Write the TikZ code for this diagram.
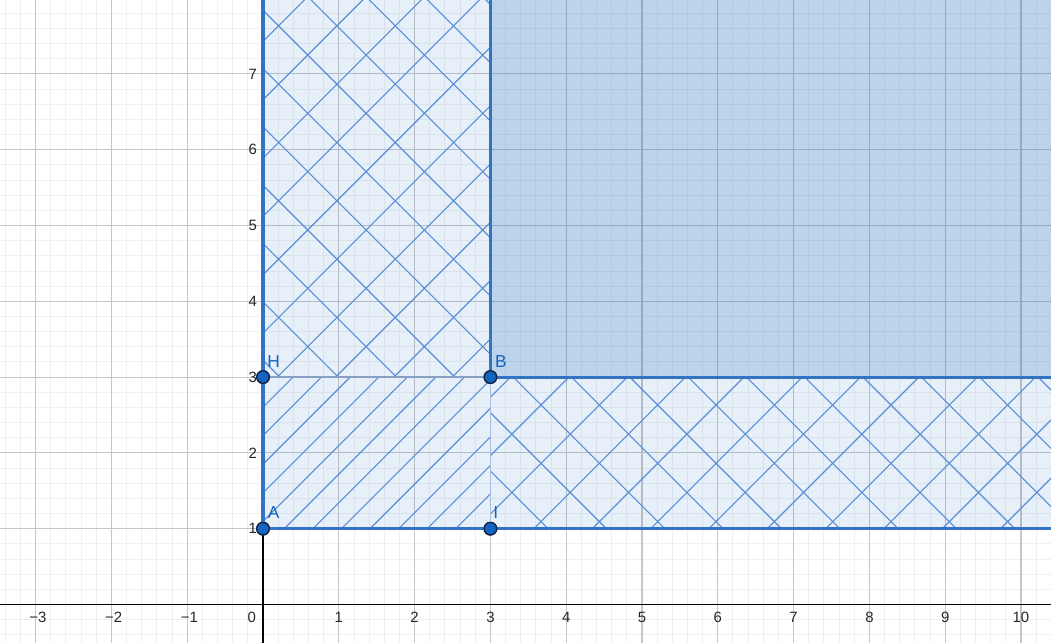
\documentclass[tikz,border=0pt]{standalone}
\usepackage{fontspec}
\setmainfont{Liberation Sans}
\definecolor{ggblue}{RGB}{21,101,192}
\definecolor{edgeblue}{RGB}{50,115,196}
\definecolor{hatchblue}{RGB}{90,142,214}
\definecolor{minorgrid}{RGB}{240,240,240}
\definecolor{majorgrid}{RGB}{198,198,198}
\definecolor{ptborder}{RGB}{20,35,70}
\definecolor{innerh}{RGB}{135,160,196}
\definecolor{innerv}{RGB}{165,190,225}
\tikzset{
  pt/.style={circle,fill=ggblue,draw=ptborder,line width=0.5pt,minimum size=1.65mm,inner sep=0pt},
  ptlabel/.style={text=ggblue,font=\fontsize{6.5}{7}\selectfont,inner sep=0pt},
  ticklabel/.style={text=black!85,font=\fontsize{5.6}{6}\selectfont,inner sep=0pt},
  hatchline/.style={hatchblue,line width=0.42pt},
  edge/.style={edgeblue,line width=1.15pt},
}
\begin{document}
\begin{tikzpicture}
\useasboundingbox (-3.470,-0.508) rectangle (10.396,7.975);
\fill[white] (-3.470,-0.508) rectangle (10.396,7.975);
\begin{scope}
\clip (-3.470,-0.508) rectangle (10.396,7.975);
% grid
\draw[minorgrid,line width=0.35pt] (-3.6,-0.6) grid[step=0.2] (10.6,8.2);
\draw[majorgrid,line width=0.4pt] (-4,-1) grid[step=1] (11,9);
% axes
\draw[black,line width=0.5pt] (-3.6,0) -- (10.6,0);
\draw[black,line width=0.5pt] (0,-0.6) -- (0,8.2);
% fills
\fill[ggblue,opacity=0.1] (0,1) rectangle (10.6,8.2);
\fill[ggblue,opacity=0.2] (3,3) rectangle (10.6,8.2);
% single hatch in lower-left square
\begin{scope}
\clip (0,1) rectangle (3,3);
\foreach \k in {-9,...,10}{
  \pgfmathsetmacro{\c}{-0.719+\k*0.377}
  \draw[hatchline] (\c-1,-1) -- (\c+9,9);
}
\end{scope}
% cross hatch in L-shaped region
\begin{scope}
\clip (0,3) rectangle (3,8.2) (3,1) rectangle (10.6,3);
\foreach \k in {-14,...,13}{
  \pgfmathsetmacro{\c}{1.036+\k*0.7695}
  \draw[hatchline] (\c-1,-1) -- (\c+9,9);
}
\foreach \k in {-9,...,18}{
  \pgfmathsetmacro{\c}{6.300+\k*0.7695}
  \draw[hatchline] (\c+1,-1) -- (\c-9,9);
}
\end{scope}
\end{scope}
% points
\node[pt] (A) at (0,1) {};
\node[pt] (H) at (0,3) {};
\node[pt] (B) at (3,3) {};
\node[pt] (I) at (3,1) {};
\coordinate (Atop) at (0,7.975);
\coordinate (Btop) at (3,7.975);
\coordinate (Bright) at (10.396,3);
\coordinate (Iright) at (10.396,1);
% thin inner boundaries
\draw[innerh,line width=0.6pt] (H.center) -- (B.center);
\draw[innerv,line width=0.6pt] (B.center) -- (I.center);
% thick boundaries
\draw[edge] (A.center) -- (Atop);
\draw[edge] (B.center) -- (Btop);
\draw[edge] (B.center) -- (Bright);
\draw[edge] (A.center) -- (Iright);
% redraw points on top
\node[pt] at (A) {};
\node[pt] at (H) {};
\node[pt] at (B) {};
\node[pt] at (I) {};
% point labels
\node[ptlabel] (lA) at (0.14,1.21) {A};
\node[ptlabel] (lH) at (0.14,3.21) {H};
\node[ptlabel] (lB) at (3.14,3.21) {B};
\node[ptlabel] (lI) at (3.07,1.21) {I};
% x tick labels
\foreach \x in {1,...,10}{
  \node[ticklabel] (xl\x) at (\x,-0.165) {\x};
}
\foreach \x in {1,2,3}{
  \node[ticklabel] (xm\x) at (-\x+0.03,-0.165) {−\x};
}
\node[ticklabel] (xl0) at (-0.149,-0.165) {0};
% y tick labels
\foreach \y in {1,...,7}{
  \node[ticklabel,anchor=east] (yl\y) at (-0.075,\y) {\y};
}
\end{tikzpicture}
\end{document}
